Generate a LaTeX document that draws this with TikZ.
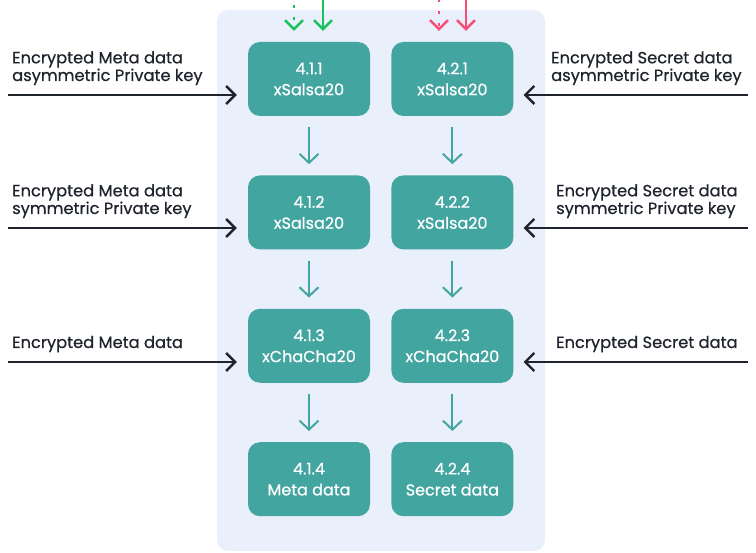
\documentclass[tikz,border=0pt]{standalone}
\usepackage{fontspec}
\setmainfont{Poppins}[BoldFont=Poppins,BoldFeatures={FakeBold=0.6}]
\usetikzlibrary{positioning}
\usetikzlibrary{arrows.meta}

\definecolor{panelbg}{HTML}{E9F0FC}
\definecolor{stepteal}{HTML}{43A5A0}
\definecolor{inkdark}{HTML}{1F232C}
\definecolor{metagreen}{HTML}{17C45C}
\definecolor{secretpink}{HTML}{F84C79}

\begin{document}
\begin{tikzpicture}[x=1pt,y=-1pt,
    cipher/.style={fill=stepteal,text=white,rounded corners=12pt,minimum width=122pt,
      minimum height=74pt,align=center,font=\fontsize{16}{21}\selectfont\bfseries},
    flow/.style={stepteal,line width=2pt,-{Straight Barb[length=9pt,width=19pt]},
      shorten <=11pt,shorten >=11pt},
    keyin/.style={inkdark,line width=2.4pt,-{Straight Barb[length=9pt,width=18pt]}},
    feed/.style={line width=2.4pt,-{Straight Barb[length=9pt,width=18pt]},shorten >=11pt},
    dotfeed/.style={feed,dash pattern=on 3pt off 9pt},
    keytext/.style={inkdark,align=left,inner sep=0pt,font=\fontsize{16.3}{16}\selectfont\bfseries}]
    \useasboundingbox (0,0) rectangle (756,553);
    \fill[panelbg,rounded corners=11pt] (217,10) rectangle (545,551);
    % meta data column
    \node[cipher] (m1) at (309,79) {4.1.1\\xSalsa20};
    \node[cipher,below=59pt of m1] (m2) {4.1.2\\xSalsa20};
    \node[cipher,below=59pt of m2] (m3) {4.1.3\\xChaCha20};
    \node[cipher,below=59pt of m3] (m4) {4.1.4\\Meta data};
    % secret data column
    \node[cipher,right=21pt of m1] (s1) {4.2.1\\xSalsa20};
    \node[cipher,right=21pt of m2] (s2) {4.2.2\\xSalsa20};
    \node[cipher,right=21pt of m3] (s3) {4.2.3\\xChaCha20};
    \node[cipher,right=21pt of m4] (s4) {4.2.4\\Secret data};
    \draw[flow] (m1) -- (m2);
    \draw[flow] (m2) -- (m3);
    \draw[flow] (m3) -- (m4);
    \draw[flow] (s1) -- (s2);
    \draw[flow] (s2) -- (s3);
    \draw[flow] (s3) -- (s4);
    % inputs from above
    \coordinate (gd) at (294,5);
    \coordinate (gs) at (323,-2);
    \coordinate (pd) at (439,-1);
    \coordinate (ps) at (466,-2);
    \draw[dotfeed,metagreen] (gd) -- (gd |- m1.north);
    \draw[feed,metagreen] (gs) -- (gs |- m1.north);
    \draw[dotfeed,secretpink] (pd) -- (pd |- s1.north);
    \draw[feed,secretpink] (ps) -- (ps |- s1.north);
    % keys from the left
    \coordinate (ma1) at (8,95);
    \coordinate (ma2) at (8,228);
    \coordinate (ma3) at (8,362);
    \draw[keyin,shorten >=11pt] (ma1) -- (ma1 -| m1.west);
    \draw[keyin,shorten >=11pt] (ma2) -- (ma2 -| m2.west);
    \draw[keyin,shorten >=11pt] (ma3) -- (ma3 -| m3.west);
    \node[keytext,anchor=base west] (mk1) at (12,81) {Encrypted Meta data\\asymmetric Private key};
    \node[keytext,anchor=base west] (mk2) at (12,214) {Encrypted Meta data\\symmetric Private key};
    \node[keytext,anchor=base west] (mk3) at (12,348) {Encrypted Meta data};
    % keys from the right
    \coordinate (sa1) at (748,95);
    \coordinate (sa2) at (748,228);
    \coordinate (sa3) at (748,362);
    \draw[keyin,shorten >=10pt] (sa1) -- (sa1 -| s1.east);
    \draw[keyin,shorten >=10pt] (sa2) -- (sa2 -| s2.east);
    \draw[keyin,shorten >=10pt] (sa3) -- (sa3 -| s3.east);
    \node[keytext,anchor=base west] (sk1) at (551,81) {Encrypted Secret data\\asymmetric Private key};
    \node[keytext,anchor=base west] (sk2) at (556,214) {Encrypted Secret data\\symmetric Private key};
    \node[keytext,anchor=base west] (sk3) at (556,348) {Encrypted Secret data};
\end{tikzpicture}
\end{document}
